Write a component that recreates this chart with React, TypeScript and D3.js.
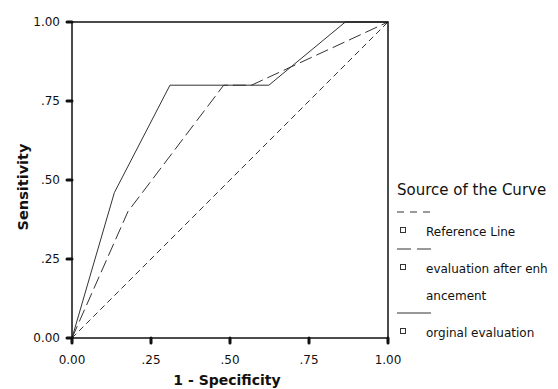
import * as d3 from 'd3'

const W = 558
const H = 389
const MARGIN = {top: 22, right: 170, bottom: 51, left: 72}

// ROC points (x = 1 - specificity, y = sensitivity)
const referenceX = [0, 1]
const referenceY = [0, 1]
const enhancedX = [0, 0.177, 0.48, 0.568, 1]
const enhancedY = [0, 0.4, 0.8, 0.8, 1]
const originalX = [0, 0.134, 0.31, 0.623, 0.865, 1]
const originalY = [0, 0.46, 0.8, 0.8, 1, 1]

const ticks = [0, 0.25, 0.5, 0.75, 1]
const tickLabels = ['0.00', '.25', '.50', '.75', '1.00']

const legendTitle = 'Source of the Curve'
const legendItems = [
  {lines: ['Reference Line'], dash: '6,4', sample: '7,6'},
  {lines: ['evaluation after enh', 'ancement'], dash: '13,5', sample: '14,6'},
  {lines: ['orginal evaluation'], dash: '', sample: ''},
]

const FONT = '"DejaVu Sans", Verdana, sans-serif'
const INK = '#111'

const toPoints = (xs: number[], ys: number[]) => xs.map((x, i) => [x, ys[i]] as [number, number])

export default function App() {
  const boundsWidth = W - MARGIN.left - MARGIN.right
  const boundsHeight = H - MARGIN.top - MARGIN.bottom

  const xScale = d3.scaleLinear().domain([0, 1]).range([0, boundsWidth])
  const yScale = d3.scaleLinear().domain([0, 1]).range([boundsHeight, 0])
  const line = d3
    .line<[number, number]>()
    .x(d => xScale(d[0]))
    .y(d => yScale(d[1]))

  const curves = [
    {pts: toPoints(referenceX, referenceY), dash: legendItems[0].dash},
    {pts: toPoints(enhancedX, enhancedY), dash: legendItems[1].dash},
    {pts: toPoints(originalX, originalY), dash: legendItems[2].dash},
  ]

  // legend sits just right of the frame
  const lx = MARGIN.left + boundsWidth + 9
  let ly = 195
  const legend: JSX.Element[] = []
  legend.push(
    <text key="title" x={lx} y={ly} fontSize={15} fontFamily={FONT} fill={INK}>
      {legendTitle}
    </text>,
  )
  ly += 17
  legendItems.forEach((item, i) => {
    legend.push(
      <line
        key={'l' + i}
        x1={lx}
        x2={lx + 34}
        y1={ly}
        y2={ly}
        stroke="#333"
        strokeWidth={1}
        strokeDasharray={item.sample || undefined}
      />,
    )
    legend.push(
      <rect
        key={'r' + i}
        x={lx + 3.5}
        y={ly + 15.5}
        width={5}
        height={5}
        fill="none"
        stroke="#333"
        strokeWidth={1}
      />,
    )
    item.lines.forEach((t, j) => {
      legend.push(
        <text key={'t' + i + j} x={lx + 29} y={ly + 23.5 + j * 27} fontSize={12} fontFamily={FONT} fill={INK}>
          {t}
        </text>,
      )
    })
    ly += 37 + (item.lines.length - 1) * 27
  })

  return (
    <svg width={W} height={H} style={{position: 'absolute', left: 0, top: 0, background: '#fff'}}>
      <g transform={`translate(${MARGIN.left},${MARGIN.top})`}>
        {curves.map((c, i) => (
          <path
            key={i}
            d={line(c.pts) || ''}
            fill="none"
            stroke="#333"
            strokeWidth={1}
            strokeDasharray={c.dash || undefined}
          />
        ))}
        <rect x={0} y={0} width={boundsWidth} height={boundsHeight} fill="none" stroke={INK} strokeWidth={1.5} />
        {ticks.map((t, i) => (
          <g key={'y' + i}>
            <line x1={-5} x2={0} y1={yScale(t)} y2={yScale(t)} stroke={INK} strokeWidth={3} strokeLinecap="round" />
            <text
              x={-12}
              y={yScale(t)}
              textAnchor="end"
              dominantBaseline="central"
              fontSize={12}
              fontFamily={FONT}
              fill={INK}>
              {tickLabels[i]}
            </text>
          </g>
        ))}
        {ticks.map((t, i) => (
          <g key={'x' + i}>
            <line
              x1={xScale(t)}
              x2={xScale(t)}
              y1={boundsHeight}
              y2={boundsHeight + 5}
              stroke={INK}
              strokeWidth={3}
              strokeLinecap="round"
            />
            <text x={xScale(t)} y={boundsHeight + 26} textAnchor="middle" fontSize={12} fontFamily={FONT} fill={INK}>
              {tickLabels[i]}
            </text>
          </g>
        ))}
        <text
          x={boundsWidth / 2 - 3}
          y={boundsHeight + 47}
          textAnchor="middle"
          fontSize={14}
          fontWeight="bold"
          fontFamily={FONT}
          fill={INK}>
          1 - Specificity
        </text>
        <text
          transform={`translate(${-44},${boundsHeight / 2 + 7}) rotate(-90)`}
          textAnchor="middle"
          fontSize={14.5}
          fontWeight="bold"
          fontFamily={FONT}
          fill={INK}>
          Sensitivity
        </text>
      </g>
      {legend}
    </svg>
  )
}
